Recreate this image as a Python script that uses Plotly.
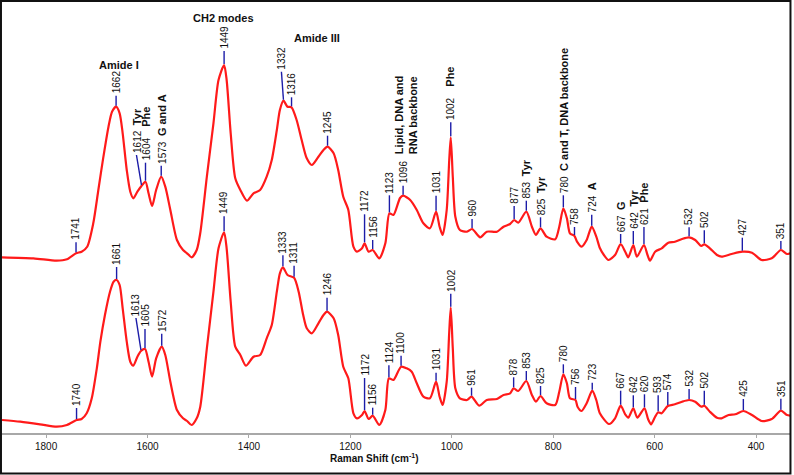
import numpy as np
import plotly.graph_objects as go

# ---------------- data ----------------
top_wn = [1887, 1825, 1779, 1759, 1741, 1730, 1719, 1707, 1697, 1687, 1677, 1670, 1662, 1655, 1649,
          1641, 1634, 1628, 1620, 1612, 1604, 1598, 1591, 1583, 1573, 1565, 1555, 1542, 1530, 1522,
          1513, 1503, 1496, 1483, 1470, 1460, 1449, 1444, 1436, 1427, 1417, 1404, 1391, 1378, 1365,
          1355, 1345, 1339, 1332, 1324, 1316, 1306, 1296, 1286, 1276, 1263, 1253, 1245, 1233, 1224,
          1214, 1204, 1194, 1187, 1177, 1172, 1164, 1156, 1143, 1131, 1123, 1115, 1102, 1096, 1082,
          1069, 1056, 1043, 1031, 1024, 1018, 1010, 1005, 1002, 998, 993, 984, 970, 960, 944,
          931, 911, 898, 885, 877, 869, 853, 842, 834, 825, 813, 796, 788, 780, 773,
          767, 758, 753, 744, 734, 724, 715, 708, 700, 691, 678, 667, 658, 652, 642,
          635, 621, 614, 609, 599, 586, 573, 560, 546, 532, 520, 508, 502, 491, 477,
          468, 448, 427, 408, 389, 369, 351, 339, 329]
top_int = [175.7, 174.7, 172.3, 173.7, 179.7, 181.3, 186.3, 209.7, 243, 276.3, 306.3, 321.3, 326.3, 319.7, 299.7,
           263, 241.3, 234.7, 241.3, 247, 251.3, 239.7, 227, 243, 256.3, 246.3, 223, 193, 183, 179.7,
           175.7, 183, 200, 256.3, 309.7, 353, 368, 353, 299.7, 254.7, 243, 232.3, 239.7, 243, 256.3,
           273, 303, 323, 332.3, 326.3, 325.7, 313, 293, 274.7, 268, 276.3, 283, 286.3, 279.7, 263,
           236.3, 223, 186.3, 181.3, 184.7, 189.7, 181.3, 183, 174.7, 189.7, 219.7, 218, 235, 237.3, 233,
           223, 209.7, 204.7, 221.3, 206.3, 198, 223, 273, 295.7, 256.3, 216.3, 203, 201.3, 204, 195.7,
           201.3, 201.3, 206.3, 209, 213, 210.3, 221.3, 206.3, 198, 204.7, 196.3, 193.7, 206.3, 224.7, 214.7,
           199.7, 197, 191.3, 186.3, 193, 206.3, 196.3, 185, 178, 173, 178, 189, 181.3, 175.7, 188,
           176.3, 188, 178, 172.3, 181.3, 184.7, 190.3, 191.3, 194, 195.7, 193, 187, 188.7, 184.7, 178,
           176.3, 179, 181.3, 180.3, 173, 174.7, 183, 179, 180.3]

bot_wn = [1887, 1851, 1812, 1779, 1759, 1740, 1730, 1720, 1710, 1700, 1693, 1684, 1674, 1667, 1661,
          1655, 1649, 1641, 1634, 1628, 1620, 1613, 1605, 1598, 1591, 1583, 1572, 1565, 1555, 1542,
          1530, 1522, 1513, 1503, 1496, 1483, 1470, 1460, 1449, 1444, 1436, 1427, 1417, 1406, 1391,
          1378, 1365, 1355, 1345, 1339, 1333, 1324, 1311, 1302, 1293, 1286, 1276, 1263, 1253, 1246,
          1233, 1224, 1214, 1204, 1194, 1187, 1177, 1172, 1164, 1156, 1143, 1131, 1124, 1115, 1100,
          1089, 1079, 1069, 1056, 1043, 1031, 1024, 1018, 1010, 1005, 1002, 998, 993, 984, 970,
          961, 946, 931, 911, 898, 885, 878, 869, 853, 842, 834, 825, 813, 796, 788,
          780, 773, 767, 756, 752, 744, 734, 723, 715, 708, 690, 678, 667, 658, 652,
          642, 634, 620, 613, 607, 599, 593, 586, 574, 560, 546, 532, 520, 508, 502,
          491, 477, 468, 454, 441, 425, 408, 389, 369, 351, 339, 329]
bot_int = [13, 11.3, 8.7, 6.3, 8, 13, 14, 19.7, 34.7, 64.7, 91.3, 118, 141.3, 151.3, 153,
           148, 124.7, 91.3, 71.3, 67.3, 76.3, 82, 84, 71.3, 56.3, 74.7, 86.3, 78, 51.3, 23,
           14.7, 12, 8, 14.7, 26.3, 84.7, 141.3, 184.7, 200.7, 184.7, 131.3, 86.3, 78, 67.3, 76.3,
           78, 94.7, 108, 141.3, 159.7, 165.7, 158, 155.3, 141.3, 118, 104.7, 99.7, 109.7, 118, 121.3,
           114.7, 98, 66.3, 54.7, 19.7, 14.7, 18, 22, 14, 17.3, 8, 23, 54.7, 53, 66.3,
           64.7, 61.3, 49.7, 36.3, 34.7, 51.3, 36.3, 28, 51.3, 101.3, 125.3, 84.7, 44.7, 34.7, 33,
           36.3, 27.3, 33, 34, 38, 39.7, 44.7, 42, 52, 38, 31.3, 37, 29.7, 28, 41.3,
           58.7, 49.7, 34.7, 33, 26.3, 22, 29.7, 42.3, 33, 19.7, 9, 14.7, 27.3, 18.7, 15.3,
           24.7, 15.3, 24.7, 14, 8.7, 16.3, 20.7, 19.7, 27, 28.7, 31.3, 33, 31.3, 26.3, 27.3,
           21.3, 15.3, 14.7, 18, 18.7, 22, 18, 12, 14, 22.3, 18, 17.3]

# peak labels
top_peaks = [1741, 1662, 1612, 1604, 1573, 1449, 1332, 1316, 1245, 1172, 1156, 1123, 1096, 1031, 1002,
             960, 877, 853, 825, 780, 758, 724, 667, 642, 621, 532, 502, 427, 351]
top_tags = {1612: "Tyr", 1604: "Phe", 1573: "G and A", 1002: "Phe", 853: "Tyr", 825: "Tyr",
            780: "C and T, DNA backbone", 724: "A", 667: "G", 642: "Tyr", 621: "Phe"}
bot_peaks = [1740, 1661, 1613, 1605, 1572, 1449, 1333, 1311, 1246, 1172, 1156, 1124, 1100, 1031, 1002,
             961, 878, 853, 825, 780, 756, 723, 667, 642, 620, 593, 574, 532, 502, 425, 351]

band_labels = ["Amide I", "CH2 modes", "Amide III"]
band_wn = [1657, 1451, 1266]
band_int = [368, 415, 395]
side_label = "Lipid, DNA and<br>RNA backbone"
side_wn, side_int = 1090, 318

tick_vals = [1800, 1600, 1400, 1200, 1000, 800, 600, 400]
x_title = "Raman Shift (cm<sup>-1</sup>)"

# ---------------- styling ----------------
top_lead = [10, 10, 30, 18, 10, 13, 28, 9, 10, 28, 9, 17, 9, 15, 14,
            9, 13, 10, 10, 12, 8, 11, 9, 13, 17, 9, 13, 13, 8]
bot_lead = [11, 12, 32, 19, 12, 15, 11, 11, 13, 32, 7, 12, 10, 8, 13,
            8, 10, 9, 9, 9, 12, 7, 14, 12, 13, 16, 13, 10, 14, 11, 11]
top_lean = {1612: -5, 1332: -2}
bot_lean = {1613: -5}
wide_gap = {1604, 1002}

RED = "#ff1a1a"
BLUE = "#1c1ca8"
FONT = "Arial, 'Liberation Sans', sans-serif"
GAP = 1

fig = go.Figure()
for wn, inten in ((top_wn, top_int), (bot_wn, bot_int)):
    fig.add_trace(go.Scatter(x=wn, y=inten, mode="lines",
                             line=dict(color=RED, width=2.2, shape="spline", smoothing=0.7),
                             hoverinfo="skip", showlegend=False))


def add_labels(wn, inten, peaks, leads, leans, tags):
    xs = np.array(wn[::-1], dtype=float)
    ys = np.array(inten[::-1], dtype=float)
    for p, L in zip(peaks, leads):
        h = float(np.interp(p, xs, ys))
        dx = leans.get(p, 0)
        fig.add_shape(type="line", xref="x", yref="y", xsizemode="pixel", ysizemode="pixel",
                      xanchor=p, yanchor=h, x0=0, x1=dx, y0=GAP, y1=GAP + L,
                      line=dict(color=BLUE, width=1.4))
        txt = str(p)
        if p in tags:
            sp = "&nbsp;&nbsp;&nbsp; " if p in wide_gap else "&nbsp; "
            txt += sp + "<span style='font-size:11px'><b>" + tags[p] + "</b></span>"
        fig.add_annotation(x=p, y=h, xref="x", yref="y", text=txt, textangle=-90,
                           showarrow=False, xanchor="center", yanchor="bottom",
                           xshift=dx, yshift=GAP + L + 1, borderpad=0,
                           font=dict(family=FONT, size=10, color="#111"))


add_labels(top_wn, top_int, top_peaks, top_lead, top_lean, top_tags)
add_labels(bot_wn, bot_int, bot_peaks, bot_lead, bot_lean, {})

for t, x, y in zip(band_labels, band_wn, band_int):
    fig.add_annotation(x=x, y=y, xref="x", yref="y", text="<b>" + t + "</b>", showarrow=False,
                       font=dict(family=FONT, size=11, color="#111"))
fig.add_annotation(x=side_wn, y=side_int, xref="x", yref="y", text="<b>" + side_label + "</b>",
                   textangle=-90, showarrow=False, align="left",
                   font=dict(family=FONT, size=11, color="#111"))

fig.add_annotation(x=0.4717, y=-0.058, xref="paper", yref="paper", text="<b>" + x_title + "</b>",
                   showarrow=False, xanchor="center", yanchor="middle",
                   font=dict(family=FONT, size=10, color="#111"))

# outer black frame
fig.add_shape(type="rect", xref="paper", yref="paper", x0=-0.0013, x1=1.0006, y0=-0.094, y1=1.0023,
              line=dict(color="#111", width=2), fillcolor="rgba(0,0,0,0)", layer="above")

fig.update_layout(
    width=794, height=475,
    margin=dict(l=2, r=4, t=2, b=42),
    paper_bgcolor="white", plot_bgcolor="white",
    xaxis=dict(range=[1887, 333], showgrid=False, zeroline=False, showline=True,
               linecolor="#a8a8a8", linewidth=2, ticks="outside", ticklen=3, tickcolor="#a8a8a8",
               tickvals=tick_vals, tickfont=dict(family=FONT, size=10, color="#111")),
    yaxis=dict(range=[0, 431], visible=False, fixedrange=True),
    showlegend=False,
)

fig.write_html("out.html", config={"displayModeBar": False},
               post_script="document.body.style.margin='0';document.body.style.overflow='hidden';")
